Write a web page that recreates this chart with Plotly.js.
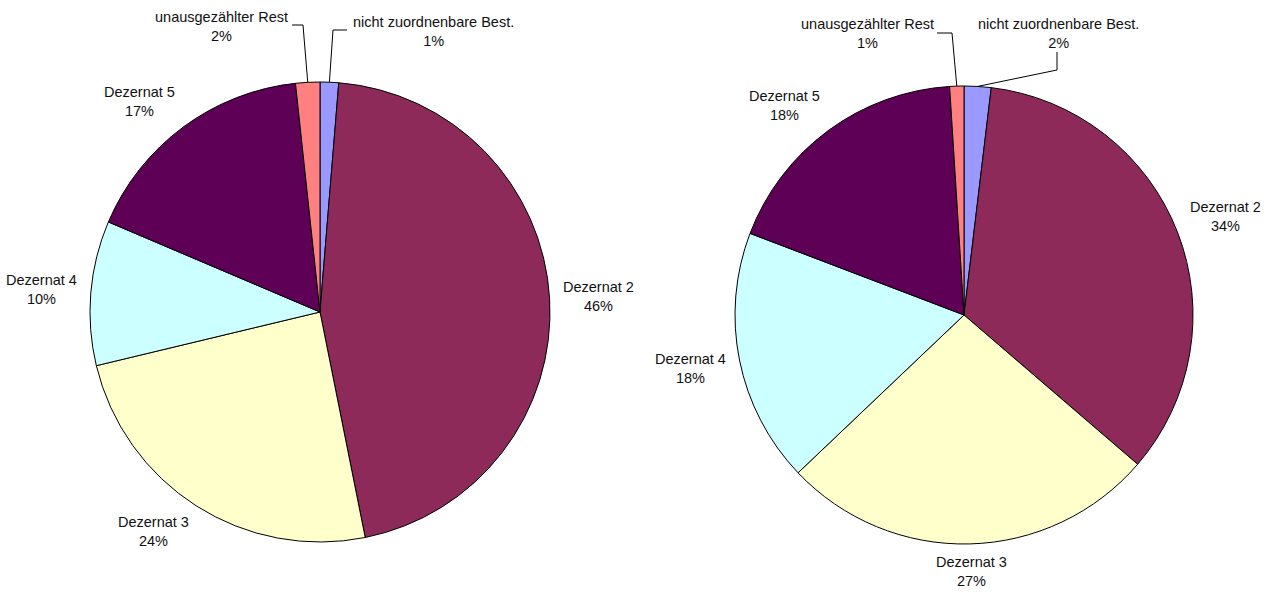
<!DOCTYPE html>
<html>
<head>
<meta charset="utf-8">
<script src="https://cdn.plot.ly/plotly-3.0.1.min.js"></script>
<style>html,body{margin:0;padding:0;background:#fff;}#chart{width:1270px;height:594px;}</style>
</head>
<body>
<div id="chart"></div>
<script>
// ---- data ----
const categories = ["nicht zuordnenbare Best.", "Dezernat 2", "Dezernat 3", "Dezernat 4", "Dezernat 5", "unausgezählter Rest"];
const valuesLeft  = [1.3, 45.55, 24.4, 10.15, 16.9, 1.7];
const valuesRight = [1.9, 34.4, 26.6, 17.9, 18.2, 1.0];
const sliceColors = ["#9999FF", "#8E2A5A", "#FFFFCC", "#CCFFFF", "#5E0055", "#FF8080"];

// ---- layout geometry (pixels) ----
const W = 1270, H = 594;
const pies = [
  {values: valuesLeft,  cx: 320, cy: 312, r: 230,
   small: {0: {x: 433, y: 31, path: [[347,30],[333,30]]},
           5: {x: 221, y: 26, path: [[292,25],[303,25]]}}},
  {values: valuesRight, cx: 964, cy: 315, r: 229,
   small: {0: {x: 1058, y: 34, path: [[1057,52],[1057,70]]},
           5: {x: 867, y: 34, path: [[937,33],[952,33]]}}}
];
const px = x => x / W, py = y => (H - y) / H;
const font = {family: "Liberation Sans, Arial, sans-serif", size: 14.5, color: "#111"};

const data = [], annotations = [], shapes = [];
pies.forEach(p => {
  data.push({
    type: "pie", labels: categories, values: p.values, sort: false,
    direction: "clockwise", rotation: 0, textinfo: "none", hoverinfo: "none",
    marker: {colors: sliceColors, line: {color: "#000", width: 1}},
    domain: {x: [px(p.cx - p.r), px(p.cx + p.r)], y: [py(p.cy + p.r), py(p.cy - p.r)]}
  });
  const total = p.values.reduce((a, b) => a + b, 0);
  let cum = 0;
  p.values.forEach((v, i) => {
    const mid = (cum + v / 2) / total; cum += v;
    const th = 2 * Math.PI * mid;
    const ux = Math.sin(th), uy = -Math.cos(th);
    const pct = Math.round(v / total * 100) + "%";
    const text = categories[i] + "<br>" + pct;
    if (p.small[i]) {
      const s = p.small[i];
      annotations.push({x: px(s.x), y: py(s.y), xref: "paper", yref: "paper", text: text,
        showarrow: false, xanchor: "center", yanchor: "middle", align: "center", font: font});
      const ex = p.cx + p.r * ux, ey = p.cy + p.r * uy;
      const pts = s.path.concat([[ex, ey]]);
      const d = pts.map((q, k) => (k ? "L" : "M") + px(q[0]) + "," + py(q[1])).join(" ");
      shapes.push({type: "path", xref: "paper", yref: "paper", path: d, line: {color: "#000", width: 1}});
    } else {
      const g = 13, hw = 36, hh = 15;
      const cl = t => Math.max(-1, Math.min(1, t));
      const x = p.cx + (p.r + g) * ux + hw * cl(2 * ux);
      const y = p.cy + (p.r + g) * uy + hh * cl(2 * uy);
      annotations.push({x: px(x), y: py(y), xref: "paper", yref: "paper", text: text,
        showarrow: false, xanchor: "center", yanchor: "middle", align: "center", font: font});
    }
  });
});

Plotly.newPlot("chart", data, {
  width: W, height: H, margin: {l: 0, r: 0, t: 0, b: 0},
  paper_bgcolor: "#fff", plot_bgcolor: "#fff", showlegend: false,
  annotations: annotations, shapes: shapes
}, {staticPlot: true});
</script>
</body>
</html>
